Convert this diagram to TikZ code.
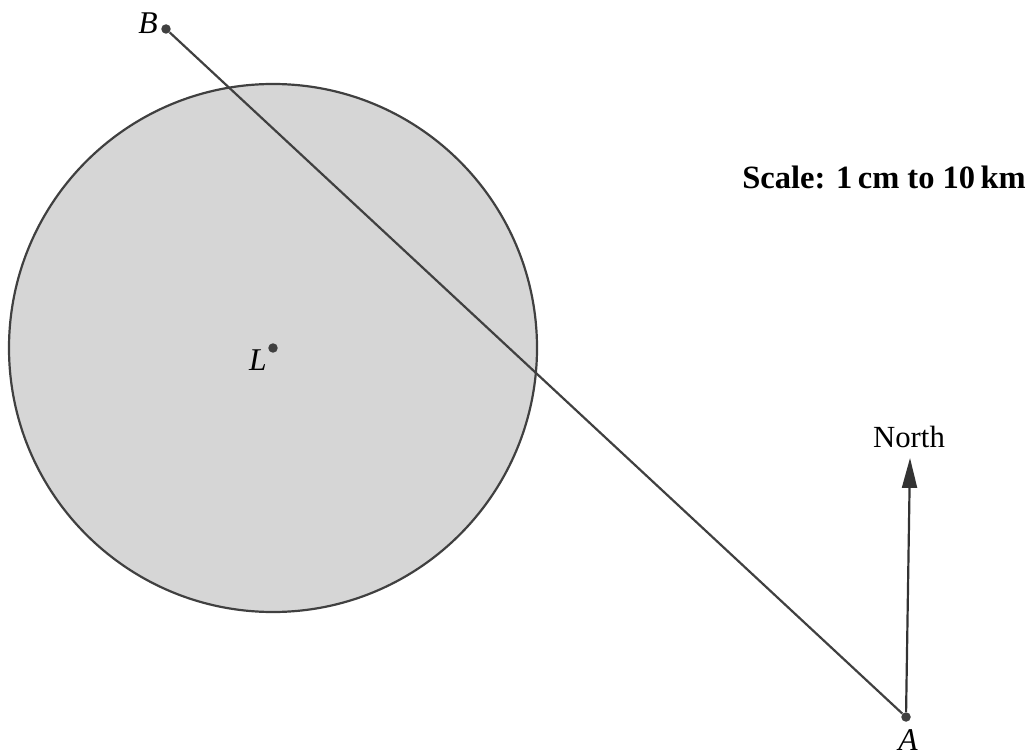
\documentclass[tikz,border=0pt]{standalone}
\usepackage{fontspec}
\setmainfont{Liberation Serif}
\usetikzlibrary{arrows.meta}

\begin{document}
\begin{tikzpicture}[x=0.02cm,y=-0.02cm,>={Triangle[length=17pt,width=8.5pt]},font=\fontsize{17.5}{20}\selectfont]
\tikzstyle{pt}=[circle,fill=black!75,inner sep=0pt,minimum size=5.4pt]
\tikzstyle{ln}=[draw=black!75,line width=1.25pt]
\tikzstyle{lab}=[font=\fontsize{18}{20}\selectfont\itshape]
\useasboundingbox (0,0) rectangle (1033,756);
% lake
\draw[ln,fill=black!16] (273,348) circle (264);
\node[pt] (L) at (273,348) {};
\node[lab] (Llab) at (258,360) {L};
% points and route
\node[pt] (B) at (166,29) {};
\node[lab] (Blab) at (148,23) {B};
\node[pt] (A) at (906,717) {};
\node[lab] (Alab) at (908,740) {A};
\draw[ln] (B) -- (A);
% north arrow
\coordinate (N) at (910,458);
\draw[ln,->,black!80] (A) -- (N);
\node (Nlab) at (909,437) {North};
% scale
\node[font=\fontsize{18.5}{20}\selectfont\bfseries] (scale) at (884,177) {Scale: 1\,cm to 10\,km};
\end{tikzpicture}
\end{document}
